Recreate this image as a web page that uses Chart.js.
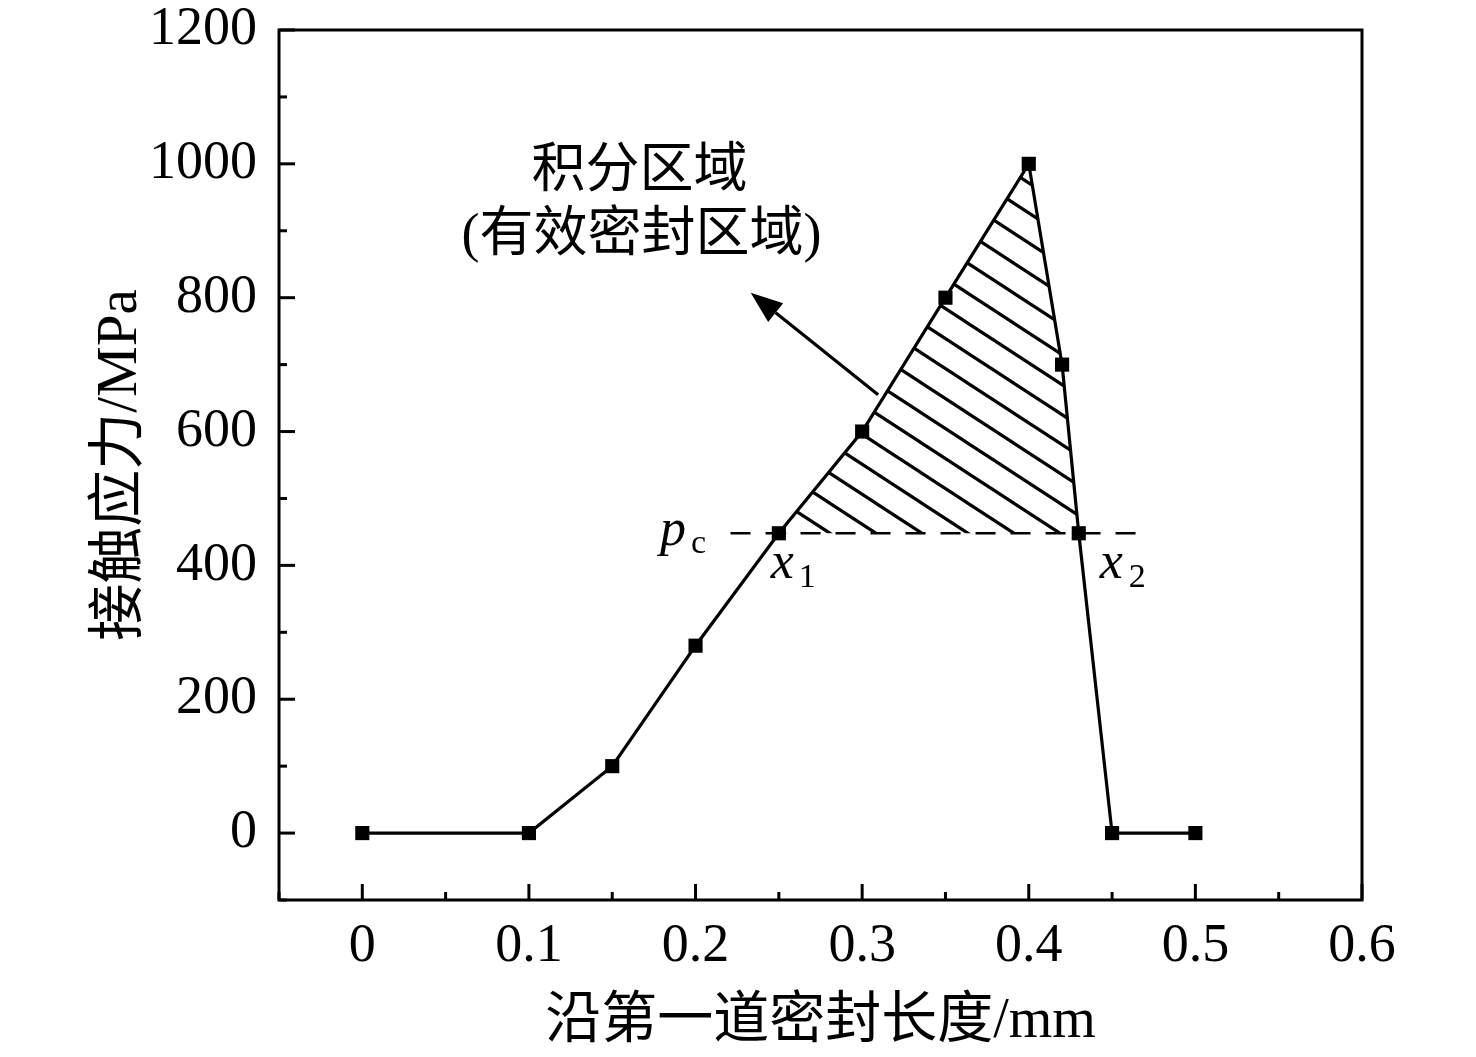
<!DOCTYPE html>
<html><head><meta charset="utf-8">
<script src="https://cdn.jsdelivr.net/npm/chart.js@4"></script>
<style>html,body{margin:0;padding:0;background:#fff}#wrap{width:1476px;height:1057px}</style>
</head><body><div id="wrap"><canvas id="c"></canvas></div>
<script>
const xValues = [0, 0.1, 0.15, 0.2, 0.25, 0.3, 0.35, 0.4, 0.42, 0.43, 0.45, 0.5];
const yValues = [0, 0, 100, 280, 448, 600, 800, 1000, 700, 448, 0, 0];
const pcValue = 448;
const pcLineX = [0.221, 0.471];
const xTickLabels = ['0', '0.1', '0.2', '0.3', '0.4', '0.5', '0.6'];
const yTickLabels = ['0', '200', '400', '600', '800', '1000', '1200'];
const xTitle = '沿第一道密封长度/mm';
const yTitle = '接触应力/MPa';
const noteLine1 = '积分区域';
const noteLine2 = '(有效密封区域)';

const SERIF = '"Liberation Serif", "Times New Roman", "Noto Sans CJK SC", serif';

// hatch pattern
const tile = document.createElement('canvas');
tile.width = 46; tile.height = 30;
const tc = tile.getContext('2d');
tc.strokeStyle = '#000'; tc.lineWidth = 3.2;
for (const n of [-1, 0, 1]) {
  tc.beginPath(); tc.moveTo(-10, 30*n - 10*30/46); tc.lineTo(56, 30*n + 56*30/46); tc.stroke();
}
const hatch = tc.createPattern(tile, 'repeat');
try { hatch.setTransform(new DOMMatrix().translate(0, 22)); } catch(e) {}

const mainData = xValues.map((x, i) => ({x, y: yValues[i]}));
const hatchData = mainData.filter(p => p.y >= pcValue);
const pcData = pcLineX.map(x => ({x, y: pcValue}));

function isLabel(v, labels) { return labels.some(l => Math.abs(parseFloat(l) - v) < 1e-6); }
function labelFor(v, labels) { const l = labels.find(l => Math.abs(parseFloat(l) - v) < 1e-6); return l === undefined ? '' : l; }

const decor = {
  id: 'decor',
  afterDraw(chart) {
    const ctx = chart.ctx, a = chart.chartArea;
    const xs = chart.scales.x, ys = chart.scales.y;
    ctx.save();
    ctx.strokeStyle = '#000'; ctx.lineWidth = 3; ctx.lineCap = 'butt';
    ctx.strokeRect(a.left, a.top, a.right - a.left, a.bottom - a.top);
    ys.ticks.forEach(t => {
      const y = ys.getPixelForValue(t.value);
      const len = isLabel(t.value, yTickLabels) ? 16 : 8;
      ctx.beginPath(); ctx.moveTo(a.left, y); ctx.lineTo(a.left + len, y); ctx.stroke();
    });
    xs.ticks.forEach(t => {
      const x = xs.getPixelForValue(t.value);
      const len = isLabel(t.value, xTickLabels) ? 16 : 8;
      ctx.beginPath(); ctx.moveTo(x, a.bottom); ctx.lineTo(x, a.bottom - len); ctx.stroke();
    });
    // arrow
    const tx = xs.getPixelForValue(0.3096), ty = ys.getPixelForValue(655);
    const hx = xs.getPixelForValue(0.2331), hy = ys.getPixelForValue(807.5);
    const ang = Math.atan2(hy - ty, hx - tx);
    const hl = 32, hw = 12;
    const bx = hx - hl*Math.cos(ang), by = hy - hl*Math.sin(ang);
    ctx.lineWidth = 3.2;
    ctx.beginPath(); ctx.moveTo(tx, ty); ctx.lineTo(bx, by); ctx.stroke();
    ctx.fillStyle = '#000';
    ctx.beginPath(); ctx.moveTo(hx, hy);
    ctx.lineTo(bx + hw*Math.sin(ang), by - hw*Math.cos(ang));
    ctx.lineTo(bx - hw*Math.sin(ang), by + hw*Math.cos(ang));
    ctx.closePath(); ctx.fill();
    // notes
    ctx.textAlign = 'center'; ctx.textBaseline = 'middle';
    ctx.font = '54px ' + SERIF;
    ctx.fillText(noteLine1, xs.getPixelForValue(0.1663), ys.getPixelForValue(987));
    ctx.fillText(noteLine2, xs.getPixelForValue(0.1675), ys.getPixelForValue(891));
    // labels p_c, x1, x2
    const pcy = ys.getPixelForValue(pcValue);
    ctx.textAlign = 'left'; ctx.textBaseline = 'alphabetic';
    ctx.font = 'italic 52px ' + SERIF;
    ctx.fillText('p', 660, pcy + 12);
    ctx.font = '34px ' + SERIF;
    ctx.fillText('c', 691, pcy + 20);
    const x1 = xs.getPixelForValue(0.25), x2 = xs.getPixelForValue(0.43);
    ctx.font = 'italic 52px ' + SERIF;
    ctx.fillText('x', x1 - 8, pcy + 45);
    ctx.fillText('x', x2 + 21, pcy + 45);
    ctx.font = '34px ' + SERIF;
    ctx.fillText('1', x1 + 20, pcy + 54);
    ctx.fillText('2', x2 + 50, pcy + 54);
    ctx.restore();
  }
};

new Chart(document.getElementById('c'), {
  type: 'scatter',
  data: {
    datasets: [
      {
        data: hatchData, showLine: true, borderWidth: 0, borderColor: 'rgba(0,0,0,0)',
        pointRadius: 0, backgroundColor: hatch, fill: { value: pcValue }, order: 3
      },
      {
        data: pcData, showLine: true, borderColor: '#000', borderWidth: 2.6,
        borderDash: [20, 15], pointRadius: 0, fill: false, order: 2
      },
      {
        data: mainData, showLine: true, borderColor: '#000', borderWidth: 3.2,
        pointStyle: 'rect', pointRadius: 10, pointBorderWidth: 0,
        pointBackgroundColor: '#000', tension: 0, fill: false, order: 1
      }
    ]
  },
  options: {
    responsive: true, maintainAspectRatio: false, animation: false,
    layout: { padding: { left: 0, top: 30, right: 114, bottom: 0 } },
    plugins: { legend: { display: false }, tooltip: { enabled: false }, filler: { propagate: false } },
    scales: {
      x: {
        type: 'linear', min: -0.05, max: 0.6,
        grid: { display: false, drawTicks: false }, border: { display: false },
        ticks: { stepSize: 0.05, autoSkip: false, maxRotation: 0, padding: 14, color: '#000',
          font: { family: SERIF, size: 54 },
          callback: v => labelFor(v, xTickLabels) },
        title: { display: true, text: xTitle, color: '#000', font: { family: SERIF, size: 56 }, padding: { top: 0, bottom: 1 } },
        afterFit: s => { s.height = 157; s.paddingLeft = 0; s.paddingRight = 0; }
      },
      y: {
        type: 'linear', min: -100, max: 1200,
        grid: { display: false, drawTicks: false }, border: { display: false },
        ticks: { stepSize: 100, autoSkip: false, padding: 22, color: '#000',
          font: { family: SERIF, size: 54 },
          callback: v => labelFor(v, yTickLabels) },
        title: { display: true, text: yTitle, color: '#000', font: { family: SERIF, size: 57 }, padding: { top: 87, bottom: 0 } },
        afterFit: s => { s.width = 279; s.paddingTop = 0; s.paddingBottom = 0; }
      }
    }
  },
  plugins: [decor]
});
</script></body></html>
